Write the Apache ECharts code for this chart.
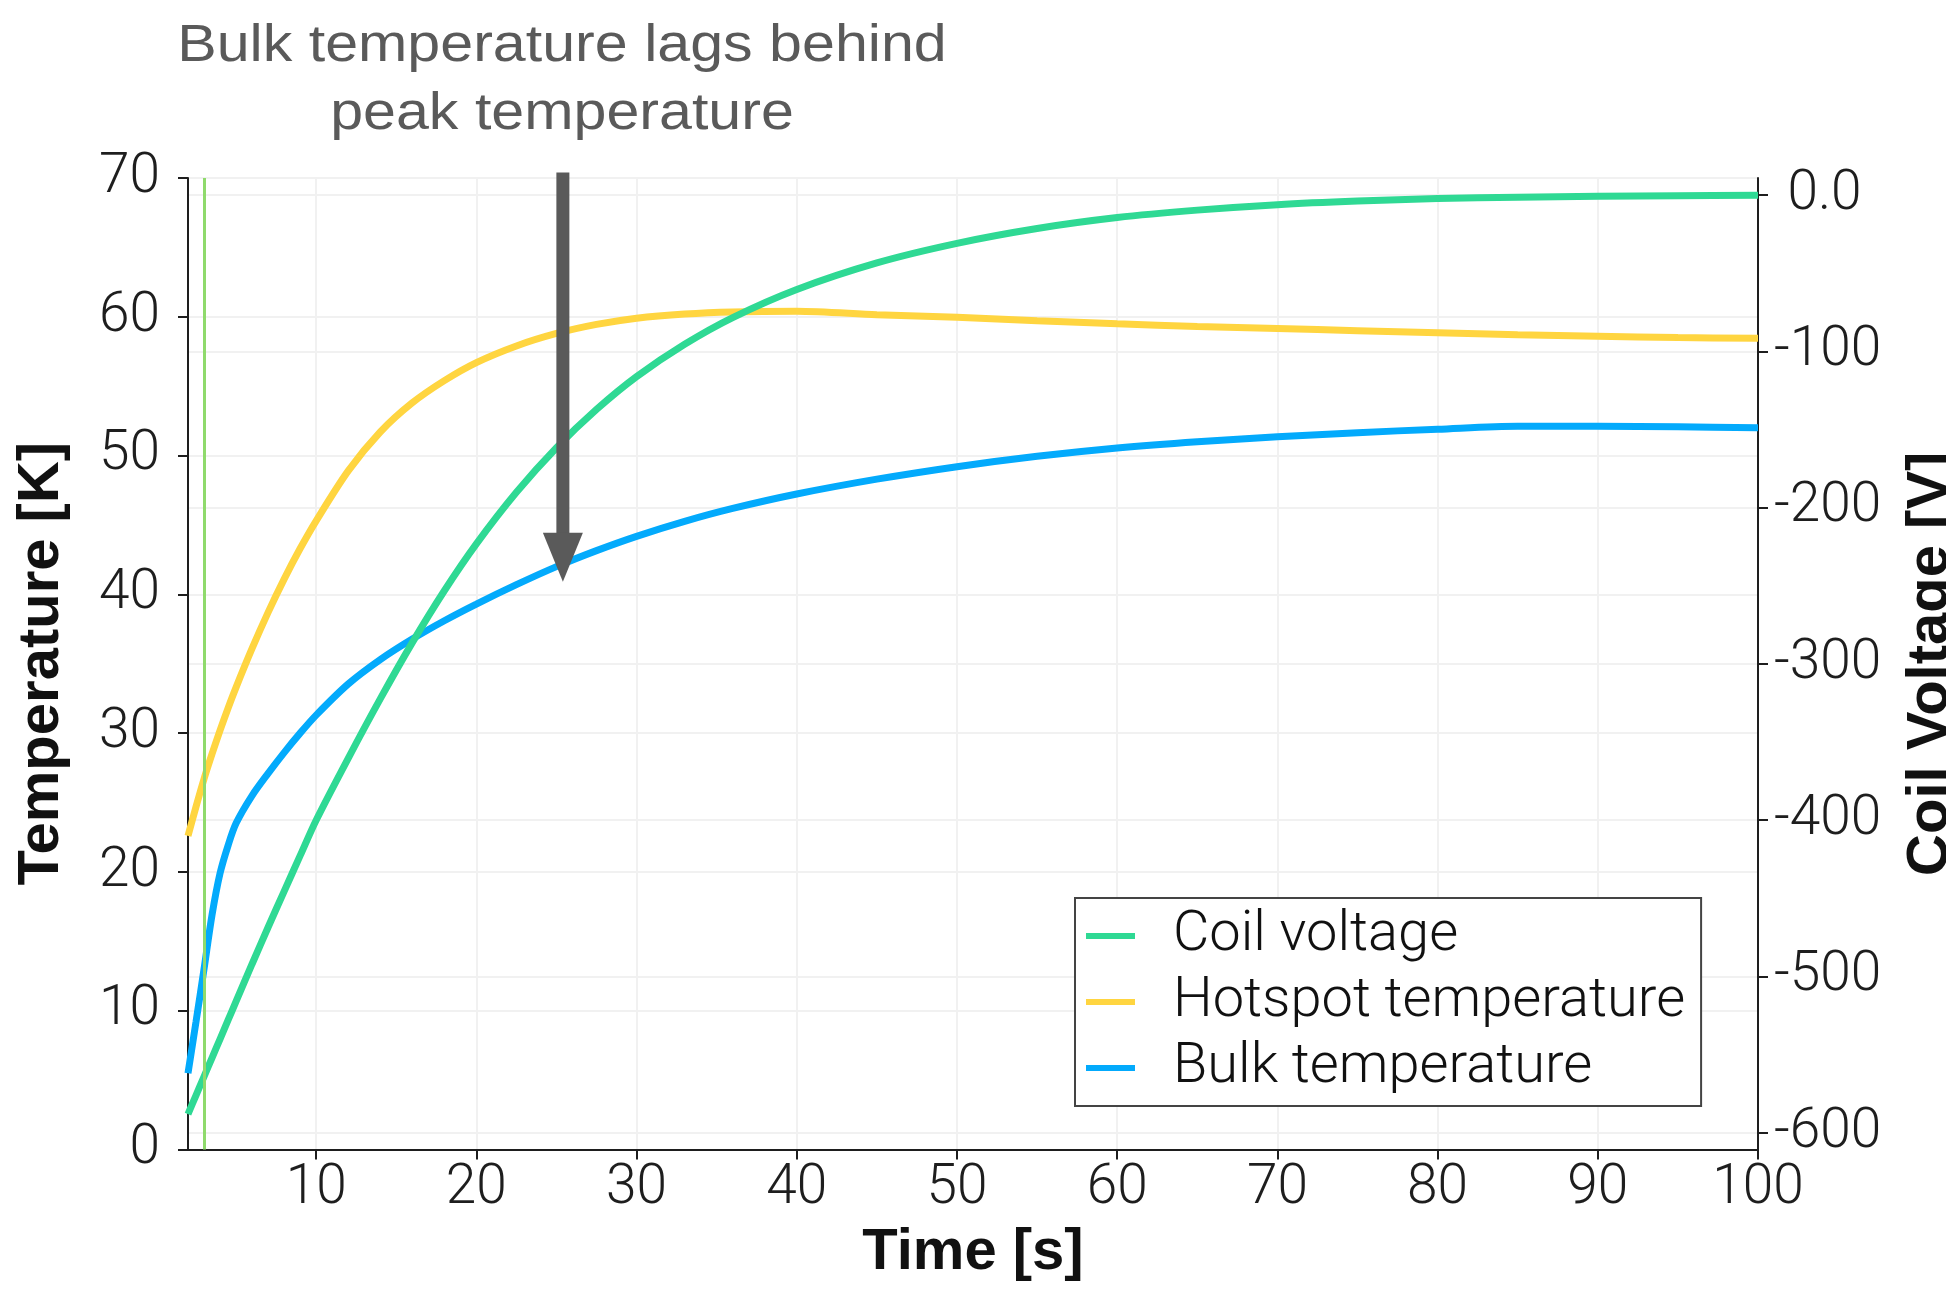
<!DOCTYPE html>
<html>
<head>
<meta charset="utf-8">
<script src="https://cdn.jsdelivr.net/npm/echarts@6/dist/echarts.min.js"></script>
<style>
  html, body { margin: 0; padding: 0; background: #ffffff; }
  #chart { width: 1946px; height: 1297px; }
</style>
</head>
<body>
<div id="chart"></div>
<script>
// Quench transient: coil voltage and conductor temperatures over time
const TIME_S = [2, 2.5, 3, 3.5, 4, 4.5, 5, 6, 7, 8, 9, 10, 12, 14, 16, 18, 20, 22.5, 25, 27.5,
                30, 33, 36, 40, 45, 50, 55, 60, 65, 70, 75, 80, 85, 90, 95, 100];

const COIL_VOLTAGE_V = [-588, -576, -564, -552, -540, -528, -516, -492, -468.5, -445.5, -422.7, -400,
                        -360.4, -322.4, -286.4, -253.2, -223.2, -190.2, -161.7, -137.2, -116.2, -95.5,
                        -78.4, -60.4, -43.4, -30.9, -21.4, -14.4, -9.65, -6.15, -3.85, -2.25, -1.35,
                        -0.75, -0.4, -0.2];

const HOTSPOT_TEMP_K = [22.6, 24.7, 26.7, 28.5, 30.2, 31.8, 33.3, 36.1, 38.7, 41.1, 43.3, 45.3,
                        48.9, 51.7, 53.8, 55.4, 56.7, 57.9, 58.8, 59.45, 59.9, 60.2, 60.35, 60.4,
                        60.15, 59.96, 59.72, 59.5, 59.3, 59.15, 59.0, 58.85, 58.7, 58.6, 58.5, 58.45];

const BULK_TEMP_K = [5.5, 9.2, 13.0, 16.9, 19.9, 21.9, 23.5, 25.5, 27.1, 28.6, 30.0, 31.3,
                     33.54, 35.3, 36.78, 38.1, 39.3, 40.7, 42.0, 43.15, 44.18, 45.26, 46.19, 47.23,
                     48.3, 49.2, 49.95, 50.55, 51.0, 51.35, 51.65, 51.9, 52.12, 52.12, 52.07, 52.0];

const TIME_TICKS = [10, 20, 30, 40, 50, 60, 70, 80, 90, 100];
const VOLTAGE_TICKS = [-600, -500, -400, -300, -200, -100, 0];

// quench detection instant
const DETECTION_TIME_S = 3;

// annotation: arrow pointing at the bulk curve
const NOTE_TEXT = 'Bulk temperature lags behind\npeak temperature';
const ARROW_T = 25.4;
const ARROW_FROM_K = 70.4;
const ARROW_TO_K = 40.9;

const LIGHT_FONT = "Roboto, 'Helvetica Neue', Helvetica, Arial, sans-serif";
const BOLD_FONT = "'Liberation Sans', Arial, Helvetica, sans-serif";
const INK = '#1e1e1e';
const GRID_LINE = { show: true, lineStyle: { color: '#f1f1f1', width: 2 } };

const pairs = (ys) => TIME_S.map((t, i) => [t, ys[i]]);

const chart = echarts.init(document.getElementById('chart'), null, { renderer: 'canvas' });

const axisLine = { show: true, onZero: false, lineStyle: { color: INK, width: 2 } };
const tickStyle = { show: true, inside: false, length: 10, lineStyle: { color: INK, width: 2 } };
const labelStyle = { fontFamily: LIGHT_FONT, fontWeight: 300, fontSize: 55, color: INK };
const nameStyle = { fontFamily: BOLD_FONT, fontWeight: 'bold', fontSize: 58, color: '#111111' };
const curve = { type: 'line', symbol: 'none', smooth: 0.3 };

chart.setOption({
  animation: false,
  backgroundColor: '#ffffff',
  grid: {
    left: 188, right: 188, top: 178, bottom: 147.5,
    containLabel: false, outerBoundsMode: 'none'
  },
  legend: {
    orient: 'vertical',
    left: 1075, top: 898,
    padding: [10, 16, 10, 11],
    itemGap: 10,
    itemWidth: 49, itemHeight: 6,
    icon: 'rect',
    backgroundColor: '#ffffff',
    borderColor: '#444444', borderWidth: 2,
    selectedMode: false,
    textStyle: { fontFamily: LIGHT_FONT, fontWeight: 300, fontSize: 56, lineHeight: 56,
                 color: '#111111', padding: [0, 0, 0, 33] },
    data: ['Coil voltage', 'Hotspot temperature', 'Bulk temperature']
  },
  xAxis: {
    type: 'value', min: 2, max: 100,
    axisLine,
    axisTick: Object.assign({}, tickStyle, { customValues: TIME_TICKS }),
    axisLabel: Object.assign({}, labelStyle, { customValues: TIME_TICKS, margin: 12 }),
    splitLine: GRID_LINE,
    name: 'Time [s]', nameLocation: 'middle', nameGap: 74, nameTextStyle: nameStyle
  },
  yAxis: [
    {
      type: 'value', position: 'left', min: 0, max: 70, interval: 10,
      axisLine, axisTick: tickStyle,
      axisLabel: Object.assign({}, labelStyle, { margin: 28 }),
      splitLine: GRID_LINE,
      name: 'Temperature [K]', nameLocation: 'middle', nameGap: 117, nameTextStyle: nameStyle
    },
    {
      type: 'value', position: 'right', min: -610.7, max: 10.9,
      alignTicks: false,
      axisLine,
      axisTick: Object.assign({}, tickStyle, { customValues: VOLTAGE_TICKS }),
      axisLabel: Object.assign({}, labelStyle, {
        customValues: VOLTAGE_TICKS, margin: 16, align: 'left',
        formatter: (v) => (v === 0 ? ' 0.0' : String(v))
      }),
      splitLine: GRID_LINE,
      name: 'Coil Voltage [V]', nameLocation: 'middle', nameGap: 144, nameTextStyle: nameStyle
    }
  ],
  series: [
    Object.assign({}, curve, {
      name: 'Hotspot temperature', yAxisIndex: 0, z: 2,
      data: pairs(HOTSPOT_TEMP_K),
      lineStyle: { color: '#FFD540', width: 7 }, itemStyle: { color: '#FFD540' },
      markLine: {
        silent: true, symbol: 'none', animation: false,
        label: { show: false }, emphasis: { disabled: true },
        lineStyle: { color: '#8FDA6C', width: 3, type: 'solid' },
        data: [{ xAxis: DETECTION_TIME_S }]
      }
    }),
    Object.assign({}, curve, {
      name: 'Bulk temperature', yAxisIndex: 0, z: 3,
      data: pairs(BULK_TEMP_K),
      lineStyle: { color: '#03AAFC', width: 7 }, itemStyle: { color: '#03AAFC' }
    }),
    Object.assign({}, curve, {
      name: 'Coil voltage', yAxisIndex: 1, z: 4,
      data: pairs(COIL_VOLTAGE_V),
      lineStyle: { color: '#2FD994', width: 7 }, itemStyle: { color: '#2FD994' }
    })
  ]
});

// annotation text and arrow, anchored in data space
const arrowStart = chart.convertToPixel({ xAxisIndex: 0, yAxisIndex: 0 }, [ARROW_T, ARROW_FROM_K]);
const arrowTip = chart.convertToPixel({ xAxisIndex: 0, yAxisIndex: 0 }, [ARROW_T, ARROW_TO_K]);
const headLen = 49, headHalf = 20, shaftHalf = 6.5;
const arrowColor = '#5a5a5a';

chart.setOption({
  graphic: [
    {
      type: 'text', x: 562, y: 13, scaleX: 1.16, z: 100, silent: true,
      style: {
        text: NOTE_TEXT, fontFamily: BOLD_FONT, fontSize: 51, lineHeight: 68,
        fill: '#5a5a5a', align: 'center', verticalAlign: 'top'
      }
    },
    {
      type: 'rect', z: 100, silent: true,
      shape: { x: arrowStart[0] - shaftHalf, y: arrowStart[1], width: shaftHalf * 2,
               height: arrowTip[1] - headLen - arrowStart[1] + 1 },
      style: { fill: arrowColor }
    },
    {
      type: 'polygon', z: 100, silent: true,
      shape: { points: [[arrowTip[0] - headHalf, arrowTip[1] - headLen],
                        [arrowTip[0] + headHalf, arrowTip[1] - headLen],
                        [arrowTip[0], arrowTip[1]]] },
      style: { fill: arrowColor }
    }
  ]
});
</script>
</body>
</html>
